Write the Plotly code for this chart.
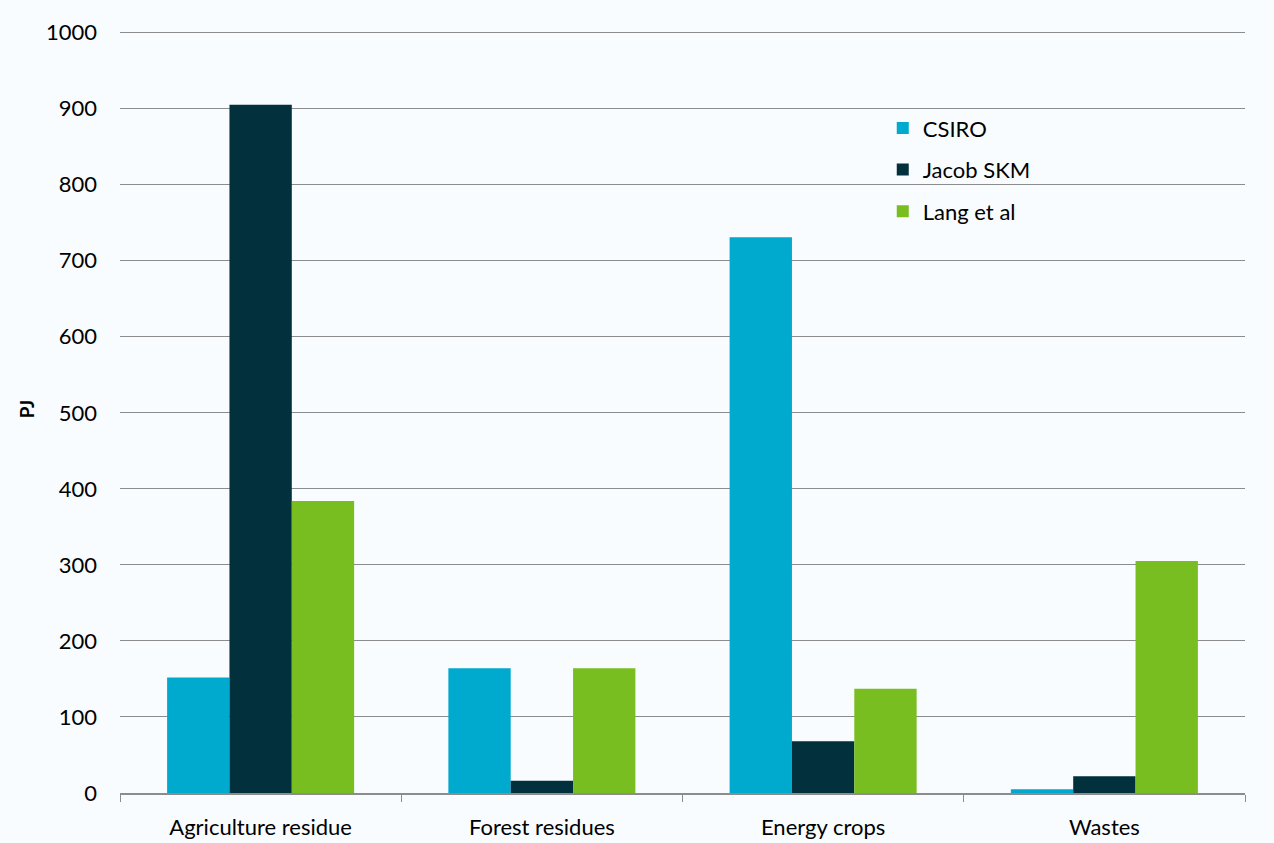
import plotly.graph_objects as go

categories = ["Agriculture residue", "Forest residues", "Energy crops", "Wastes"]
csiro = [152, 164, 731, 5]
jacob_skm = [905, 16, 68, 22]
lang_et_al = [384, 164, 137, 305]
y_ticks = [0, 100, 200, 300, 400, 500, 600, 700, 800, 900, 1000]

series = [
    ("CSIRO", csiro, "#00A9CE"),
    ("Jacob SKM", jacob_skm, "#02303D"),
    ("Lang et al", lang_et_al, "#78BE21"),
]

fig = go.Figure()
for name, vals, color in series:
    fig.add_trace(go.Bar(x=categories, y=vals, name=name, marker_color=color,
                         marker_line_width=0, legendgroup=name))

font = "Lato, 'Open Sans', sans-serif"
fig.update_layout(
    width=1274, height=843,
    margin=dict(l=120, r=29, t=25, b=50),
    paper_bgcolor="#F8FCFE", plot_bgcolor="#F8FCFE",
    barmode="group", bargap=0.335, bargroupgap=0,
    font=dict(family=font, size=22, color="#000000"),
    legend=dict(x=0.678, y=0.893, xanchor="left", yanchor="top",
                bgcolor="rgba(0,0,0,0)", font=dict(size=22),
                itemwidth=30, tracegroupgap=10),
    showlegend=True,
)
fig.update_xaxes(showline=True, linecolor="#8C8C8C", linewidth=2,
                 ticks="outside", tickson="boundaries", ticklen=7,
                 tickcolor="#8C8C8C", tickwidth=1, ticklabelstandoff=14,
                 tickfont=dict(size=22), showgrid=False, automargin=False)
fig.update_yaxes(range=[0, 1010], tickvals=y_ticks, showgrid=True,
                 gridcolor="#8C8C8C", gridwidth=1, zeroline=False,
                 ticks="", tickfont=dict(size=22), ticklabelstandoff=22,
                 automargin=False,
                 title=dict(text="<b>PJ</b>", font=dict(size=19), standoff=6))
fig.write_html("out.html")
